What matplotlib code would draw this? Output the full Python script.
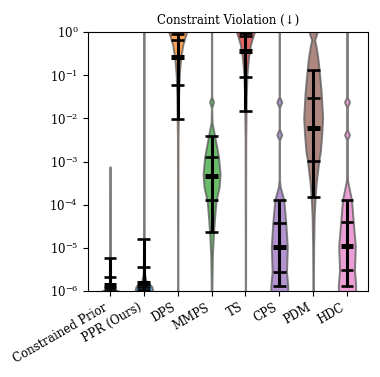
import numpy as np
import matplotlib
matplotlib.use('Agg')
import matplotlib.pyplot as plt

plt.rcParams['font.family'] = 'DejaVu Serif'
plt.rcParams['mathtext.fontset'] = 'dejavuserif'

methods = ["Constrained Prior", "PPR (Ours)", "DPS", "MMPS", "TS", "CPS", "PDM", "HDC"]
colors = ["tab:gray", "tab:blue", "tab:orange", "tab:green", "tab:red",
          "tab:purple", "tab:brown", "tab:pink"]

# violin density profiles (log10 level, relative half-width)
cp_lv = [-6.2, -6.0, -5.95, -5.88, -5.8, -5.5, -4.0, -3.12]
cp_w = [9.0, 8.5, 3.0, 1.2, 0.5, 0.2, 0.15, 0.0]
ppr_lv = [-6.2, -6.0, -5.9, -5.82, -5.75, -5.6, -4.5, 0.1]
ppr_w = [9.0, 9.0, 8.0, 5.0, 2.0, 0.6, 0.15, 0.15]
dps_lv = [-6.2, -2.5, -1.5, -1.0, -0.6, -0.3, -0.1, 0.0, 0.1]
dps_w = [0.15, 0.3, 0.8, 1.5, 3.0, 5.0, 7.5, 9.0, 9.0]
mmps_lv = [-6.2, -5.2, -4.7, -4.3, -3.9, -3.6, -3.3, -2.9, -2.4, -2.1, -1.75, -1.62, -1.5, 0.1]
mmps_w = [0.2, 0.8, 1.8, 3.0, 4.5, 7.5, 8.5, 7.0, 3.0, 0.5, 0.15, 2.0, 0.15, 0.15]
ts_lv = [-6.2, -2.5, -1.5, -1.0, -0.6, -0.3, -0.1, 0.0, 0.1]
ts_w = [0.15, 0.3, 0.8, 1.5, 3.0, 5.0, 7.5, 9.0, 9.0]
cps_lv = [-6.2, -5.88, -5.55, -4.98, -4.42, -3.89, -3.58, -3.4, -2.5, -2.38, -2.25, -1.75, -1.62, -1.5, 0.1]
cps_w = [8.5, 8.5, 7.2, 8.0, 6.5, 4.5, 0.8, 0.15, 0.15, 2.5, 0.15, 0.15, 2.5, 0.15, 0.15]
pdm_lv = [-6.2, -5.0, -4.28, -3.82, -3.5, -2.96, -2.77, -2.4, -1.99, -1.38, -1.0, -0.6, -0.35, -0.18, -0.08, 0.0, 0.1]
pdm_w = [0.2, 0.5, 1.0, 2.0, 3.0, 5.8, 7.2, 8.5, 9.5, 8.0, 6.5, 4.7, 3.0, 1.5, 3.0, 4.0, 3.0]
hdc_lv = [-6.2, -5.88, -5.52, -4.96, -4.4, -3.89, -3.47, -3.3, -2.5, -2.38, -2.25, -1.75, -1.62, -1.5, 0.1]
hdc_w = [8.7, 8.7, 7.5, 8.3, 6.3, 4.5, 0.8, 0.15, 0.15, 2.5, 0.15, 0.15, 2.5, 0.15, 0.15]

levels = [cp_lv, ppr_lv, dps_lv, mmps_lv, ts_lv, cps_lv, pdm_lv, hdc_lv]
widths = [cp_w, ppr_w, dps_w, mmps_w, ts_w, cps_w, pdm_w, hdc_w]

# percentiles: p5, p25, median, p75, p95
p5 = [1.02e-6, 1.05e-6, 9.5e-3, 2.3e-5, 0.015, 1.3e-6, 1.5e-4, 1.3e-6]
p25 = [1.15e-6, 1.25e-6, 6.0e-2, 1.26e-4, 0.09, 2.8e-6, 1.05e-3, 3.0e-6]
p50 = [1.35e-6, 1.5e-6, 0.26, 4.7e-4, 0.36, 1.04e-5, 6.1e-3, 1.1e-5]
p75 = [2.1e-6, 3.7e-6, 0.65, 1.3e-3, 0.82, 3.8e-5, 0.029, 3.9e-5]
p95 = [5.8e-6, 1.6e-5, 0.89, 3.9e-3, 0.95, 1.28e-4, 0.133, 1.28e-4]

fig = plt.figure(figsize=(3.8, 3.77), dpi=100)
ax = fig.add_axes([0.2316, 0.228, 0.7368, 0.687])

scale = 1.0 / 33.86  # relative width -> category units
for i, (lv, w, c) in enumerate(zip(levels, widths, colors)):
    grid = np.linspace(min(lv), max(lv), 500)
    hw = np.interp(grid, lv, w) * scale
    yy = 10 ** grid
    ax.fill_betweenx(yy, i - hw, i + hw, facecolor=matplotlib.colors.to_rgba(c, 0.7),
                     edgecolor=(0.35, 0.35, 0.35, 0.75), linewidth=1.4, zorder=2)
    ax.plot([i, i], [p5[i], p95[i]], color='black', lw=2.2, zorder=3, solid_capstyle='butt')
    cw = 0.19
    for q, lw in [(p5, 1.9), (p25, 1.9), (p50, 3.6), (p75, 1.9), (p95, 1.9)]:
        ax.plot([i - cw, i + cw], [q[i], q[i]], color='black', lw=lw, zorder=4,
                solid_capstyle='butt')

ax.set_yscale('log')
ax.set_ylim(1e-6, 1)
ax.set_xlim(-0.65, 7.62)
ax.set_xticks(range(len(methods)))
ax.set_xticklabels(methods, rotation=30, ha='right', fontsize=8.5)
ax.yaxis.set_minor_locator(matplotlib.ticker.NullLocator())
ax.tick_params(axis='y', labelsize=8.5)
ax.set_title("Constraint Violation (↓)", fontsize=8.5)

fig.savefig("out.png", dpi=100)
